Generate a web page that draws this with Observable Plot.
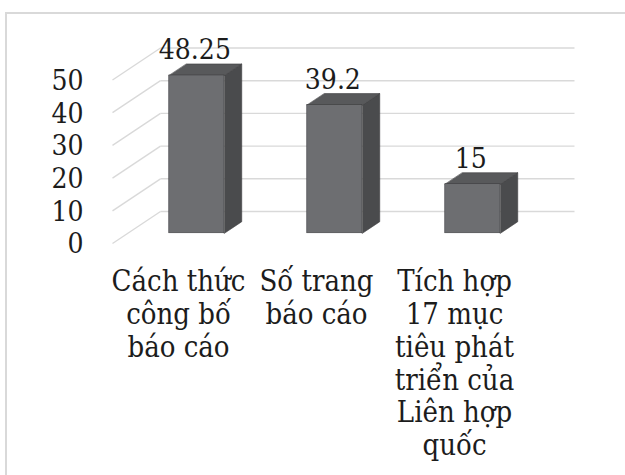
<!DOCTYPE html>
<html>
<head>
<meta charset="utf-8">
<script src="https://cdn.jsdelivr.net/npm/d3@7"></script>
<script src="https://cdn.jsdelivr.net/npm/@observablehq/plot@0.6"></script>
<style>
  html, body { margin: 0; padding: 0; background: #fff; }
  #wrap { position: relative; width: 625px; height: 475px; overflow: hidden; }
  #wrap svg { position: absolute; left: 0; top: 0; }
  #wrap svg text { font-stretch: condensed; }
  #frame { position: absolute; left: 5px; top: 12px; width: 700px; height: 600px;
           border: 2px solid #d9d9d9; box-sizing: border-box; pointer-events: none; }
</style>
</head>
<body>
<div id="wrap"><div id="frame"></div></div>
<script>
// Chart values
const categories = [
  "Cách thức\ncông bố\nbáo cáo",
  "Số trang\nbáo cáo",
  "Tích hợp\n17 mục\ntiêu phát\ntriển của\nLiên hợp\nquốc"
];
const values = [48.25, 39.2, 15];
const yTicks = [0, 10, 20, 30, 40, 50];

// Layout of the pseudo-3D floor and walls
const W = 625, H = 475;
const xRange = [112, 526];          // front edge of the floor
const yRange = [243, 79.5];         // value axis at the front of the floor
const depthPx = [48, 32];           // floor depth (right, up) in pixels
const barWidth = 0.4;               // share of a category band
const barFront = 0.32, barBack = 0.68; // bar position across the floor depth

const pxPerX = (xRange[1] - xRange[0]) / categories.length;
const pxPerY = (yRange[0] - yRange[1]) / 50;
const dX = depthPx[0] / pxPerX;     // depth in x units
const dY = depthPx[1] / pxPerY;     // depth in value units

// Back wall gridlines and side wall diagonals
const backLines = yTicks.map(t => ({x1: dX, x2: categories.length + dX, y: t + dY}));
const sideLines = yTicks.map(t => ({x1: 0, y1: t, x2: dX, y2: t + dY}));

// Bar geometry
const bdx = (barBack - barFront) * dX, bdy = (barBack - barFront) * dY;
const bars = values.map((v, i) => {
  const x0 = i + (1 - barWidth) / 2 + barFront * dX;
  const x1 = x0 + barWidth;
  const y0 = barFront * dY;
  const y1 = v + y0;
  return {i, v, x0, x1, y0, y1};
});
const sideFaces = bars.flatMap(b => [
  {z: b.i, x: b.x1, y: b.y0},
  {z: b.i, x: b.x1 + bdx, y: b.y0 + bdy},
  {z: b.i, x: b.x1 + bdx, y: b.y1 + bdy},
  {z: b.i, x: b.x1, y: b.y1}
]);
const topFaces = bars.flatMap(b => [
  {z: b.i, x: b.x0, y: b.y1},
  {z: b.i, x: b.x1, y: b.y1},
  {z: b.i, x: b.x1 + bdx, y: b.y1 + bdy},
  {z: b.i, x: b.x0 + bdx, y: b.y1 + bdy}
]);

const font = "DejaVu Serif Condensed, DejaVu Serif, serif";
const numSize = 28;
const catSize = 29;
const textColor = "#1c1c1c";
const gridColor = "#d9d9d9";
const edge = "#3e3e40";

const chart = Plot.plot({
  width: W,
  height: H,
  marginLeft: xRange[0],
  marginRight: W - xRange[1],
  marginTop: yRange[1],
  marginBottom: H - yRange[0],
  x: {domain: [0, categories.length], axis: null},
  y: {domain: [0, 50], axis: null},
  style: {fontFamily: font, background: "transparent", overflow: "visible"},
  marks: [
    Plot.link(backLines, {x1: "x1", x2: "x2", y1: "y", y2: "y", stroke: gridColor, strokeWidth: 1.4}),
    Plot.link(sideLines, {x1: "x1", x2: "x2", y1: "y1", y2: "y2", stroke: gridColor, strokeWidth: 1.4}),
    Plot.line(sideFaces, {x: "x", y: "y", z: "z", curve: "linear-closed", fill: "#4a4b4d", stroke: edge, strokeWidth: 0.6}),
    Plot.line(topFaces, {x: "x", y: "y", z: "z", curve: "linear-closed", fill: "#58595b", stroke: edge, strokeWidth: 0.6}),
    Plot.rect(bars, {x1: "x0", x2: "x1", y1: "y0", y2: "y1", fill: "#6d6e71", stroke: edge, strokeWidth: 0.6}),
    Plot.text(bars, {x: d => (d.x0 + d.x1) / 2, y: "y1", text: d => String(d.v), dx: -2, dy: -25,
      fontFamily: font, fontSize: numSize, fill: textColor, textAnchor: "middle", lineAnchor: "middle"}),
    Plot.text(yTicks, {x: 0, y: d => d, text: d => String(d), dx: -29, dy: 1,
      fontFamily: font, fontSize: numSize, fill: textColor, textAnchor: "end", lineAnchor: "middle"}),
    Plot.text(categories, {x: (d, i) => i + 0.5, y: 0, text: d => d, dx: -3, dy: 24.5,
      fontFamily: font, fontSize: catSize, lineHeight: 1.131, fill: textColor, textAnchor: "middle", lineAnchor: "top"})
  ]
});

document.getElementById("wrap").prepend(chart);
</script>
</body>
</html>
